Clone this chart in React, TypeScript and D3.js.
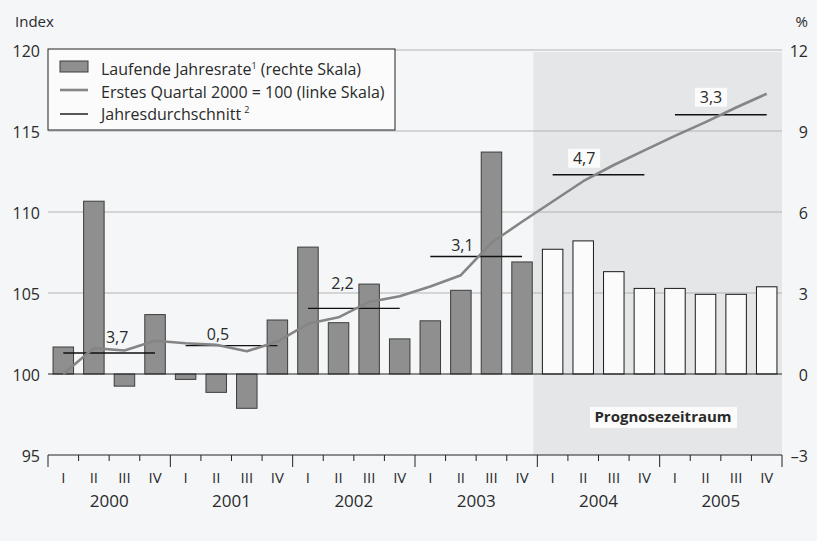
import React from "react";
import * as d3 from "d3";

const years = ["2000", "2001", "2002", "2003", "2004", "2005"];
const quarterNames = ["I", "II", "III", "IV"];
const quarters = years.flatMap((y) => quarterNames.map((q) => `${y}-${q}`));

// Laufende Jahresrate (%), right scale
const rate = [
  1.0, 6.4, -0.45, 2.2,
  -0.2, -0.68, -1.27, 2.0,
  4.7, 1.9, 3.33, 1.3,
  1.97, 3.1, 8.22, 4.15,
  4.62, 4.93, 3.79, 3.17,
  3.17, 2.95, 2.95, 3.23,
];
// Erstes Quartal 2000 = 100, left scale
const indexValues = [
  100.0, 101.6, 101.45, 102.05,
  101.9, 101.8, 101.4, 102.0,
  103.1, 103.5, 104.45, 104.8,
  105.4, 106.1, 108.1, 109.4,
  110.65, 111.9, 112.9, 113.8,
  114.7, 115.55, 116.45, 117.3,
];
// Jahresdurchschnitt (index level) and its growth label
const yearAvg = [101.3, 101.75, 104.05, 107.25, 112.3, 116.0];
const avgLabels = ["3,7", "0,5", "2,2", "3,1", "4,7", "3,3"];
// annotation placement: label centre in quarter units, height above the average line
const labelAt = [2.26, 5.56, 9.63, 13.55, 17.53, 21.68];
const labelRise = [10, 6, 19, 6, 11, 12];
const forecastFrom = 16; // first forecast quarter index (2004 I)

const leftTicks = [95, 100, 105, 110, 115, 120];
const rightTicks = [-3, 0, 3, 6, 9, 12];
const gridTicks = [105, 110, 115, 120];

const W = 817;
const H = 541;
const X0 = 48;
const X1 = 782;
const YT = 50;
const YB = 455;
const FONT = "'Open Sans', Lato, sans-serif";
const TXT = "#2a2a2a";

export default function App() {
  const x = d3.scaleBand<string>().domain(quarters).range([X0, X1]).paddingInner(0.33).paddingOuter(0.165);
  const step = x.step();
  const xEdge = (i: number) => X0 + i * step;
  const xMid = (q: string) => (x(q) as number) + x.bandwidth() / 2;
  const yL = d3.scaleLinear().domain([95, 120]).range([YB, YT]);
  const yR = d3.scaleLinear().domain([-3, 12]).range([YB, YT]);

  const line = d3
    .line<number>()
    .x((_, i) => xMid(quarters[i]))
    .y((d) => yL(d));

  const boundaries = d3.range(quarters.length + 1);

  return (
    <svg width={W} height={H} style={{ position: "absolute", left: 0, top: 0 }} fontFamily={FONT}>
      <rect x={0} y={0} width={W} height={H} fill="#f5f6f8" />
      {/* forecast shading */}
      <rect x={xEdge(forecastFrom) - 4} y={YT + 2} width={X1 - xEdge(forecastFrom) + 4} height={YB - YT - 2} fill="#e4e6e8" />
      {/* gridlines */}
      {gridTicks.map((t) => (
        <line key={t} x1={X0} x2={X1} y1={yL(t)} y2={yL(t)} stroke="#b3b3b3" strokeWidth={1} />
      ))}
      {/* bars */}
      {rate.map((v, i) => {
        const q = quarters[i];
        const y0 = yR(0);
        const y1 = yR(v);
        const fc = i >= forecastFrom;
        return (
          <rect
            key={q}
            x={x(q)}
            y={Math.min(y0, y1)}
            width={x.bandwidth()}
            height={Math.abs(y1 - y0)}
            fill={fc ? "#fbfbfb" : "#8f8f8f"}
            stroke={fc ? "#1a1a1a" : "#3c3c3c"}
            strokeWidth={1}
          />
        );
      })}
      {/* baseline */}
      <line x1={X0} x2={X1} y1={yR(0)} y2={yR(0)} stroke="#222" strokeWidth={1} />
      {/* annual averages */}
      {yearAvg.map((v, k) => (
        <line
          key={k}
          x1={xMid(quarters[k * 4])}
          x2={xMid(quarters[k * 4 + 3])}
          y1={yL(v)}
          y2={yL(v)}
          stroke="#111"
          strokeWidth={1.4}
        />
      ))}
      {/* index line */}
      <path d={line(indexValues) as string} fill="none" stroke="#858585" strokeWidth={2.6} strokeLinejoin="round" />
      {/* average labels */}
      {avgLabels.map((lab, k) => {
        const cx = X0 + labelAt[k] * step;
        const by = yL(yearAvg[k]) - labelRise[k];
        const boxed = k * 4 >= forecastFrom;
        return (
          <g key={lab + k}>
            {boxed && <rect x={cx - 16} y={by - 15} width={32} height={19} fill="#fbfbfb" />}
            <text x={cx} y={by} textAnchor="middle" fontSize={16} fill={TXT}>
              {lab}
            </text>
          </g>
        );
      })}
      {/* Prognosezeitraum */}
      <rect x={590} y={407} width={147} height={21} fill="#fbfbfb" />
      <text x={663} y={422} textAnchor="middle" fontSize={15} fontWeight="bold" fill={TXT}>
        Prognosezeitraum
      </text>
      {/* legend */}
      <rect x={X0} y={49} width={347} height={81} fill="#fbfbfb" stroke="#222" strokeWidth={1} />
      <rect x={60} y={61} width={28} height={11} fill="#8f8f8f" stroke="#3c3c3c" strokeWidth={1} />
      <line x1={60} x2={88} y1={90} y2={90} stroke="#858585" strokeWidth={2.6} />
      <line x1={60} x2={88} y1={114} y2={114} stroke="#111" strokeWidth={1.4} />
      <text x={101} y={75} fontSize={16} fill={TXT}>
        Laufende Jahresrate<tspan fontSize={9} dy={-6}>1</tspan>
        <tspan dy={6}> (rechte Skala)</tspan>
      </text>
      <text x={101} y={98} fontSize={16} fill={TXT}>
        Erstes Quartal 2000 = 100 (linke Skala)
      </text>
      <text x={101} y={120} fontSize={16} fill={TXT}>
        Jahresdurchschnitt<tspan fontSize={9} dx={3} dy={-7}>2</tspan>
      </text>
      {/* axis titles */}
      <text x={15} y={27} fontSize={15} fill={TXT}>
        Index
      </text>
      <text x={808} y={27} fontSize={15} fill={TXT} textAnchor="end">
        %
      </text>
      {/* left ticks */}
      {leftTicks.map((t) => (
        <text key={t} x={40} y={yL(t) + 7} fontSize={16} fill={TXT} textAnchor="end">
          {t}
        </text>
      ))}
      {/* right ticks */}
      {rightTicks.map((t) => (
        <text key={t} x={808} y={yR(t) + 7} fontSize={16} fill={TXT} textAnchor="end">
          {t < 0 ? `\u2013${Math.abs(t)}` : t}
        </text>
      ))}
      {/* bottom axis */}
      <line x1={X0} x2={X1} y1={YB} y2={YB} stroke="#222" strokeWidth={1} />
      {boundaries.map((i) => (
        <line
          key={i}
          x1={xEdge(i)}
          x2={xEdge(i)}
          y1={YB}
          y2={YB + (i % 4 === 0 ? 12 : 6)}
          stroke="#222"
          strokeWidth={1}
        />
      ))}
      {quarters.map((q, i) => (
        <text key={q} x={xMid(q)} y={483} fontSize={15} fill={TXT} textAnchor="middle">
          {quarterNames[i % 4]}
        </text>
      ))}
      {years.map((yr, k) => (
        <text key={yr} x={(xEdge(k * 4) + xEdge(k * 4 + 4)) / 2} y={507} fontSize={17} fill={TXT} textAnchor="middle">
          {yr}
        </text>
      ))}
    </svg>
  );
}
